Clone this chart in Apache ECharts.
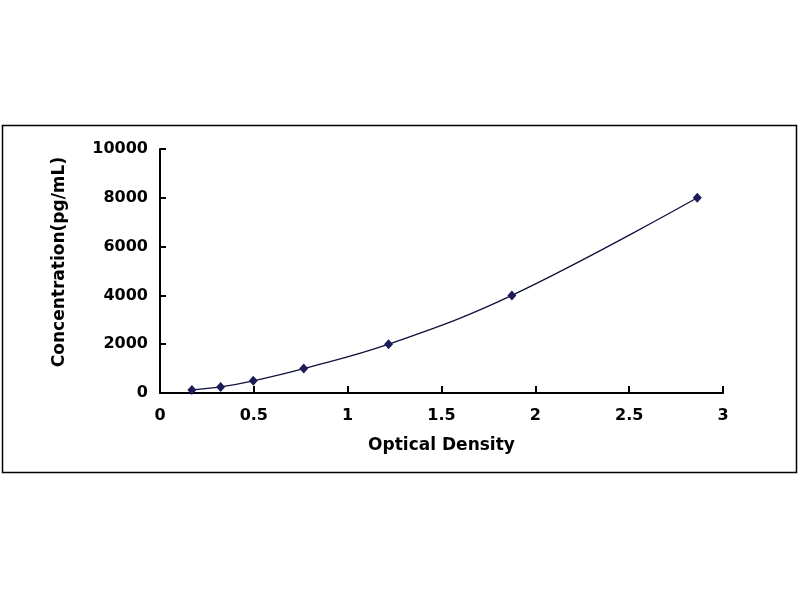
<!DOCTYPE html>
<html>
<head>
<meta charset="utf-8">
<script src="https://cdn.jsdelivr.net/npm/echarts@6/dist/echarts.min.js"></script>
<style>
  html, body { margin: 0; padding: 0; background: #fff; }
  #chart { width: 800px; height: 600px; }
</style>
</head>
<body>
<div id="chart"></div>
<script>
// standard curve values
var opticalDensity = [0.170, 0.323, 0.497, 0.766, 1.218, 1.875, 2.863];
var concentration = [125, 250, 500, 1000, 2000, 4000, 8000];

var points = [];
for (let i = 0; i < opticalDensity.length; i++) {
    points.push([opticalDensity[i], concentration[i]]);
}

var fontFam = "'DejaVu Sans', 'Liberation Sans', Arial, sans-serif";
var chart = echarts.init(document.getElementById('chart'));
var option = {
    animation: false,
    backgroundColor: '#fff',
    graphic: [{
        type: 'rect',
        shape: { x: 2.5, y: 125.5, width: 794, height: 347 },
        style: { fill: 'none', stroke: '#000', lineWidth: 1.5 },
        silent: true
    }],
    grid: {
        left: 160,
        right: 77,
        top: 149,
        bottom: 207,
        containLabel: false
    },
    xAxis: {
        type: 'value',
        min: 0,
        max: 3,
        interval: 0.5,
        name: 'Optical Density',
        nameLocation: 'middle',
        nameGap: 44,
        nameTextStyle: { color: '#000', fontSize: 17, fontWeight: 'bold', fontFamily: fontFam },
        axisLine: { show: true, lineStyle: { color: '#000', width: 2 } },
        axisTick: { show: true, inside: true, length: 7, lineStyle: { color: '#000', width: 2 } },
        axisLabel: { color: '#000', fontSize: 16, fontWeight: 'bold', fontFamily: fontFam, margin: 15,
            formatter: function (v) { return String(v); } },
        splitLine: { show: false }
    },
    yAxis: {
        type: 'value',
        min: 0,
        max: 10000,
        interval: 2000,
        name: 'Concentration(pg/mL)',
        nameLocation: 'middle',
        nameGap: 92,
        nameTextStyle: { color: '#000', fontSize: 17, fontWeight: 'bold', fontFamily: fontFam,
            padding: [0, 0, 0, 18] },
        axisLine: { show: true, lineStyle: { color: '#000', width: 2 } },
        axisTick: { show: true, inside: true, length: 6, lineStyle: { color: '#000', width: 2 } },
        axisLabel: { color: '#000', fontSize: 16, fontWeight: 'bold', fontFamily: fontFam, margin: 12,
            formatter: function (v) { return String(v); } },
        splitLine: { show: false }
    },
    series: [{
        type: 'line',
        data: points,
        smooth: 0.4,
        symbol: 'diamond',
        symbolSize: [9, 10],
        itemStyle: { color: '#1c1c5a' },
        lineStyle: { color: '#10103a', width: 1.3 }
    }]
};
chart.setOption(option);
</script>
</body>
</html>
